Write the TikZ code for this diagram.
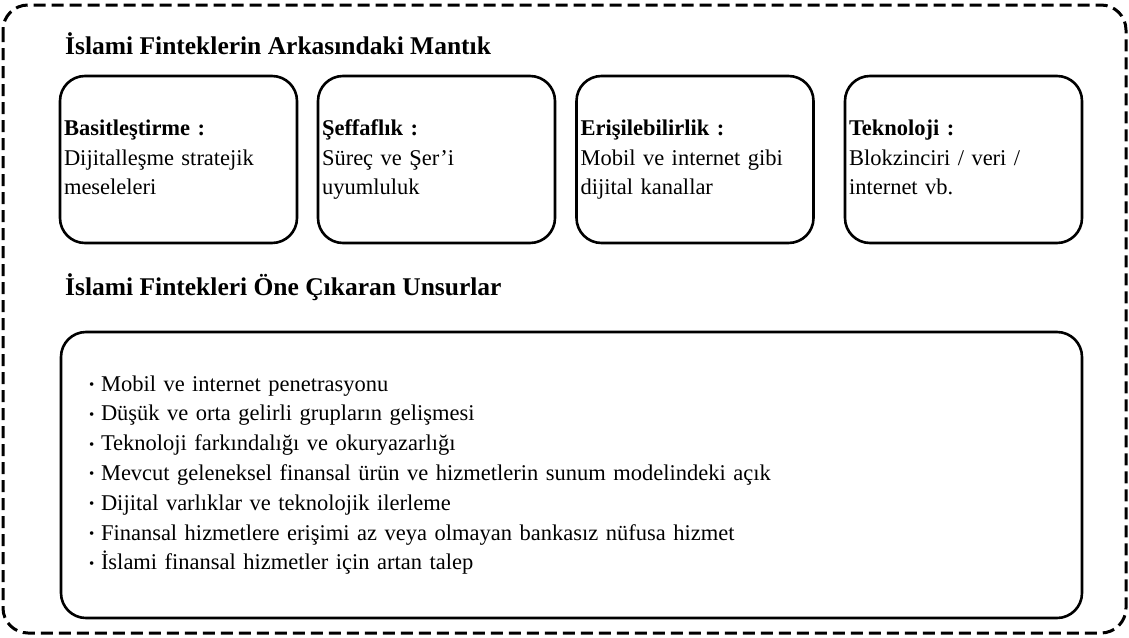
\documentclass[tikz,border=0pt]{standalone}
\usepackage{fontspec}
\setmainfont{Liberation Serif}
\usetikzlibrary{positioning}

\newcommand{\madde}{\makebox[12pt][l]{\raisebox{1.5pt}{\fontsize{15}{15}\selectfont\textbullet}}}

\begin{document}
\begin{tikzpicture}[x=1pt, y=-1pt,
	heading/.style={anchor=base west, inner sep=0pt, font=\fontsize{25.5}{30}\selectfont\bfseries},
	card/.style={draw, line width=2.6pt, rounded corners=25pt, minimum width=237pt, minimum height=167pt,
		inner xsep=4pt, text width=229pt, align=left, font=\fontsize{22.5}{29.5}\selectfont},
	listbox/.style={draw, line width=2.6pt, rounded corners=25pt, minimum width=1021pt, minimum height=286pt,
		inner xsep=28pt, text width=965pt, align=left, font=\fontsize{22.5}{29.8}\selectfont}]
		\useasboundingbox (0,0) rectangle (1129,637);
		\draw [line width=3pt, dash pattern=on 12pt off 6pt, rounded corners=25pt] (3,5) rectangle (1126,633);

		\draw (65,54) node [heading] (mantik) {İslami Finteklerin Arkasındaki Mantık};

		\draw (178.5,159.5) node [card] (basit) {\strut\textbf{Basitleştirme :}\\Dijitalleşme stratejik\\meseleleri\strut};
		\draw (436.5,159.5) node [card] (seffaf) {\strut\textbf{Şeffaflık :}\\Süreç ve Şer’i\\uyumluluk\strut};
		\draw (695,159.5) node [card] (erisim) {\strut\textbf{Erişilebilirlik :}\\Mobil ve internet gibi\\dijital kanallar\strut};
		\draw (963.5,159.5) node [card] (tekno) {\strut\textbf{Teknoloji :}\\Blokzinciri / veri /\\internet vb.\strut};

		\draw (65,295) node [heading] (unsur) {İslami Fintekleri Öne Çıkaran Unsurlar};

		\draw (571.5,475) node [listbox] (liste) {%
			\madde Mobil ve internet penetrasyonu\\
			\madde Düşük ve orta gelirli grupların gelişmesi\\
			\madde Teknoloji farkındalığı ve okuryazarlığı\\
			\madde Mevcut geleneksel finansal ürün ve hizmetlerin sunum modelindeki açık\\
			\madde Dijital varlıklar ve teknolojik ilerleme\\
			\madde Finansal hizmetlere erişimi az veya olmayan bankasız nüfusa hizmet\\
			\madde İslami finansal hizmetler için artan talep};
	\end{tikzpicture}
\end{document}
